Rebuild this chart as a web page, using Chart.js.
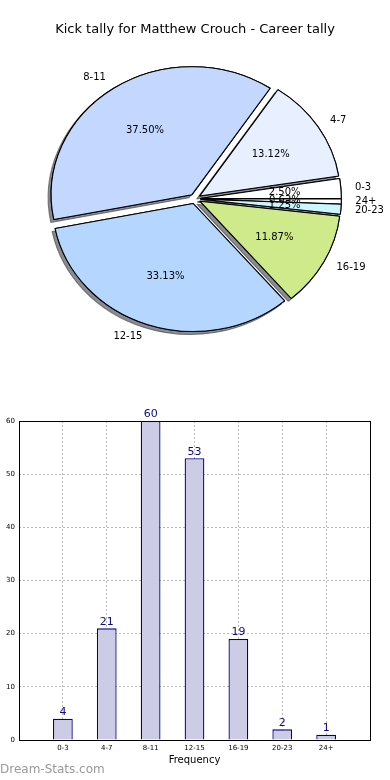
<!DOCTYPE html>
<html>
<head>
<meta charset="utf-8">
<script src="https://cdn.jsdelivr.net/npm/chart.js@4.4.1/dist/chart.umd.min.js"></script>
<style>
  html, body { margin: 0; padding: 0; background: #fff; width: 390px; height: 780px; overflow: hidden; }
  #pieWrap { position: absolute; left: 0; top: 0; width: 390px; height: 360px; }
  #barWrap { position: absolute; left: 0; top: 400px; width: 390px; height: 380px; }
  #mark { position: absolute; left: 0; top: 762px; font-family: "DejaVu Sans", sans-serif; font-size: 12px; color: #999; }
</style>
</head>
<body>
<div id="pieWrap"><canvas id="pie" width="390" height="360"></canvas></div>
<div id="barWrap"><canvas id="bar" width="390" height="380"></canvas></div>
<div id="mark">Dream-Stats.com</div>
<script>
const titleText = 'Kick tally for Matthew Crouch - Career tally';
const categories = ['0-3', '4-7', '8-11', '12-15', '16-19', '20-23', '24+'];
const counts = [4, 21, 60, 53, 19, 2, 1];
const sliceColors = ['#ffffff', '#e8f0ff', '#c4d8ff', '#b4d6ff', '#cfea8a', '#ccf6ff', '#ffffff'];
const yTicks = [0, 10, 20, 30, 40, 50, 60];
const xAxisLabel = 'Frequency';

const FONT = '"DejaVu Sans", sans-serif';
const total = counts.reduce((a, b) => a + b, 0);

// Pie: drawn counter-clockwise from 3 o'clock in the reference; Chart.js goes
// clockwise, so feed reversed order and start at 3 o'clock.
const pieLabels = categories.slice().reverse();
const pieValues = counts.slice().reverse();
const pieColors = sliceColors.slice().reverse();

const SX = 1.1;      // horizontal stretch of the pie (non-equal aspect)
const EXPLODE = 5;   // explode distance

// percentage formatted like the original (single-precision fraction)
function pctText(v) {
  const frac = Math.fround(Math.fround(v) / Math.fround(total));
  return (100 * frac).toFixed(2) + '%';
}

const piePlugin = {
  id: 'mplPie',
  beforeDatasetsDraw(chart) {
    const ctx = chart.ctx;
    const arcs = chart.getDatasetMeta(0).data;
    const cx = arcs[0].x, cy = arcs[0].y;
    const pass = (shadow) => {
      arcs.forEach(a => {
        const mid = (a.startAngle + a.endAngle) / 2;
        ctx.save();
        ctx.translate(cx, cy);
        ctx.scale(SX, 1);
        ctx.translate(Math.cos(mid) * EXPLODE, Math.sin(mid) * EXPLODE);
        ctx.translate(-cx, -cy);
        if (shadow) {
          ctx.shadowColor = 'rgba(40,45,55,0.55)';
          ctx.shadowOffsetX = -3;
          ctx.shadowOffsetY = 3;
          ctx.shadowBlur = 0;
        }
        a.draw(ctx);
        ctx.restore();
      });
    };
    pass(true);
    pass(false);
    // labels
    ctx.save();
    ctx.font = '10px ' + FONT;
    ctx.fillStyle = '#000';
    arcs.forEach((a, i) => {
      const mid = (a.startAngle + a.endAngle) / 2;
      const r = a.outerRadius;
      const c = Math.cos(mid), s = Math.sin(mid);
      const dp = EXPLODE + 0.6 * r;
      ctx.textAlign = 'center';
      ctx.textBaseline = 'middle';
      ctx.fillText(pctText(pieValues[i]), cx + c * dp * SX, cy + s * dp);
      const dl = EXPLODE + 1.1 * r;
      ctx.textAlign = c >= 0 ? 'left' : 'right';
      ctx.fillText(pieLabels[i], cx + c * dl * SX, cy + s * dl);
    });
    ctx.restore();
    return false;
  }
};

new Chart(document.getElementById('pie'), {
  type: 'pie',
  data: {
    labels: pieLabels,
    datasets: [{
      data: pieValues,
      backgroundColor: pieColors,
      borderColor: '#000',
      borderWidth: 1,
      clip: false
    }]
  },
  options: {
    responsive: false,
    animation: false,
    rotation: 90,
    radius: 128,
    layout: { padding: { left: 0, right: 0, top: 0, bottom: 0 } },
    plugins: {
      legend: { display: false },
      tooltip: { enabled: false },
      title: {
        display: true,
        text: titleText,
        color: '#000',
        font: { family: FONT, size: 13, weight: 'normal' },
        padding: { top: 22, bottom: 0 }
      }
    }
  },
  plugins: [piePlugin]
});

// Bar chart
const barPoints = counts.map((v, i) => ({ x: i, y: v }));

const barPlugin = {
  id: 'mplBar',
  afterDatasetsDraw(chart) {
    const ctx = chart.ctx;
    const meta = chart.getDatasetMeta(0);
    ctx.save();
    ctx.font = '11px ' + FONT;
    ctx.fillStyle = '#0a0a8c';
    ctx.textAlign = 'center';
    ctx.textBaseline = 'bottom';
    meta.data.forEach((b, i) => {
      ctx.fillText(String(counts[i]), b.x, b.y - 1);
    });
    ctx.restore();
  },
  afterDraw(chart) {
    const { ctx, chartArea: a } = chart;
    ctx.save();
    ctx.strokeStyle = '#000';
    ctx.lineWidth = 1;
    ctx.strokeRect(Math.round(a.left) + 0.5, Math.round(a.top) + 0.5,
      Math.round(a.right - a.left), Math.round(a.bottom - a.top));
    ctx.restore();
  }
};

const gridCol = '#b8b8b8';

new Chart(document.getElementById('bar'), {
  type: 'bar',
  data: {
    datasets: [{
      data: barPoints,
      backgroundColor: '#ccccE6',
      borderColor: '#000080',
      borderWidth: 1.3,
      barPercentage: 0.45,
      categoryPercentage: 1.0,
      clip: false
    }]
  },
  options: {
    responsive: false,
    animation: false,
    layout: { padding: { left: 0, right: 20, top: 21, bottom: 0 } },
    plugins: { legend: { display: false }, tooltip: { enabled: false } },
    scales: {
      x: {
        type: 'linear',
        offset: false,
        min: -1,
        max: categories.length,
        afterFit(s) { s.height = 40; },
        border: { display: false, dash: [2, 2] },
        grid: {
          offset: false,
          drawTicks: false,
          color: ctx => (ctx.tick && ctx.tick.value >= 0 && ctx.tick.value < categories.length) ? gridCol : 'rgba(0,0,0,0)',
          lineWidth: 1
        },
        ticks: {
          stepSize: 1,
          autoSkip: false,
          maxRotation: 0,
          padding: 4,
          color: '#000',
          font: { family: FONT, size: 7 },
          callback: v => (Number.isInteger(v) && v >= 0 && v < categories.length) ? categories[v] : ''
        },
        title: {
          display: true,
          text: xAxisLabel,
          color: '#000',
          font: { family: FONT, size: 10 },
          padding: { top: 0, bottom: 14 }
        }
      },
      y: {
        min: yTicks[0],
        max: yTicks[yTicks.length - 1],
        afterFit(s) { s.width = 19; },
        afterBuildTicks(s) { s.ticks = yTicks.map(v => ({ value: v })); },
        border: { display: false, dash: [2, 2] },
        grid: {
          drawTicks: false,
          color: ctx => (ctx.tick && ctx.tick.value > yTicks[0] && ctx.tick.value < yTicks[yTicks.length - 1]) ? gridCol : 'rgba(0,0,0,0)',
          lineWidth: 1
        },
        ticks: {
          padding: 4,
          color: '#000',
          font: { family: FONT, size: 7 }
        }
      }
    }
  },
  plugins: [barPlugin]
});
</script>
</body>
</html>
